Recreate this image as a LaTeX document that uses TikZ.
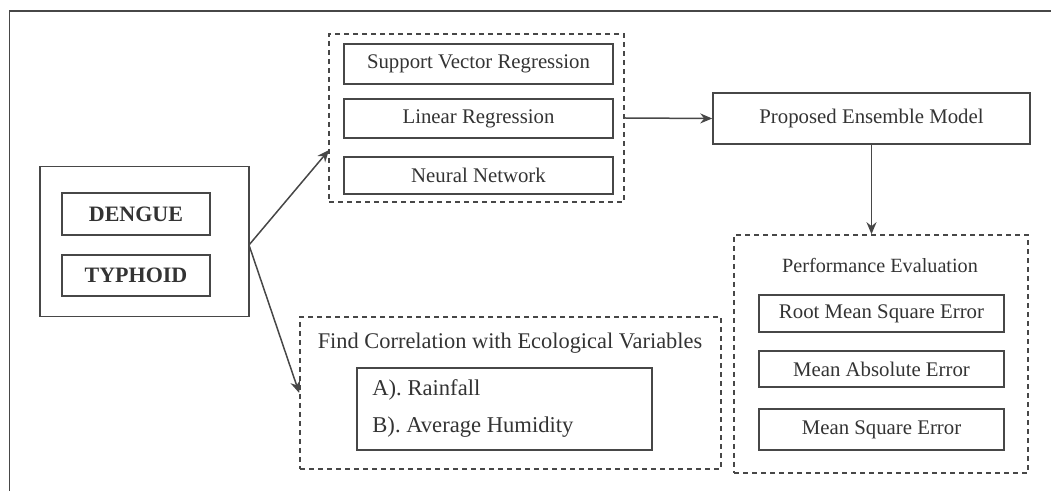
\documentclass[tikz,border=0pt]{standalone}
\usepackage{fontspec}
\setmainfont{Liberation Serif}
\usetikzlibrary{arrows.meta}
\definecolor{ln}{gray}{0.28}
\definecolor{tx}{gray}{0.20}
\tikzset{
  box/.style={draw=ln, line width=0.75pt, inner sep=0pt, text=tx, font=\fontsize{10.4}{12}\selectfont},
  dbox/.style={draw=ln, line width=0.8pt, dash pattern=on 2.6pt off 1.9pt, inner sep=0pt},
  lbl/.style={inner sep=0pt, text=tx},
  arr/.style={draw=ln, line width=0.75pt, -{Stealth[length=6pt,width=5pt]}},
}
\begin{document}
\begin{tikzpicture}[x=0.5pt,y=-0.5pt]
\useasboundingbox (0,0) rectangle (1051,491);
% outer frame (only top and left visible)
\draw[ln, line width=0.9pt] (9.5,491) -- (9.5,11) -- (1051,11);

% source box
\node[box, minimum width=104.5pt, minimum height=75pt] (src) at (144.5,241.5) {};
\node[box, minimum width=74pt, minimum height=21pt, font=\fontsize{11}{13}\selectfont\bfseries] (dengue) at (136,214) {DENGUE};
\node[box, minimum width=74pt, minimum height=20.5pt, font=\fontsize{11}{13}\selectfont\bfseries] (typhoid) at (136,275.5) {TYPHOID};

% models group
\node[dbox, minimum width=147.5pt, minimum height=84pt] (models) at (476.5,118) {};
\node[box, minimum width=134.5pt, minimum height=20pt] (svr) at (478.5,64) {Support Vector Regression};
\node[box, minimum width=134.5pt, minimum height=19.5pt] (lr) at (478.5,118.5) {Linear Regression};
\node[box, minimum width=134.5pt, minimum height=18.5pt] (nn) at (478.5,175.5) {Neural Network};

% proposed ensemble model
\node[box, minimum width=158.5pt, minimum height=25.5pt] (pem) at (871.5,118.5) {Proposed Ensemble Model};

% performance evaluation group
\node[dbox, minimum width=147pt, minimum height=119pt] (perf) at (881,354) {};
\node[lbl, font=\fontsize{10.1}{12}\selectfont] (perft) at (880,265) {Performance Evaluation};
\node[box, minimum width=122.5pt, minimum height=18.5pt] (rmse) at (881.5,313.5) {Root Mean Square Error};
\node[box, minimum width=122.5pt, minimum height=18pt] (mae) at (881.5,369) {Mean Absolute Error};
\node[box, minimum width=122.5pt, minimum height=20.5pt] (mse) at (881.5,429.5) {Mean Square Error};

% correlation group
\node[dbox, minimum width=210.5pt, minimum height=76pt] (corr) at (510.5,393) {};
\node[lbl, font=\fontsize{11.2}{13}\selectfont] (corrt) at (510,343) {Find Correlation with Ecological Variables};
\node[box, minimum width=147.5pt, minimum height=41pt] (vars) at (504.5,409) {};
\node[lbl, anchor=west, font=\fontsize{11.3}{13}\selectfont] (rain) at (372,390) {A). Rainfall};
\node[lbl, anchor=west, font=\fontsize{11.3}{13}\selectfont] (hum) at (372,427) {B). Average Humidity};

% connectors
\coordinate (t1) at (329,150);
\coordinate (s1) at (249,245);
\draw[arr] (s1) -- (t1);
\draw[arr] (s1) -- (corr.west);
\draw[arr] (models.east) -- (pem.west);
\draw[arr] (pem.south) -- (pem.south |- perf.north);
\end{tikzpicture}
\end{document}
